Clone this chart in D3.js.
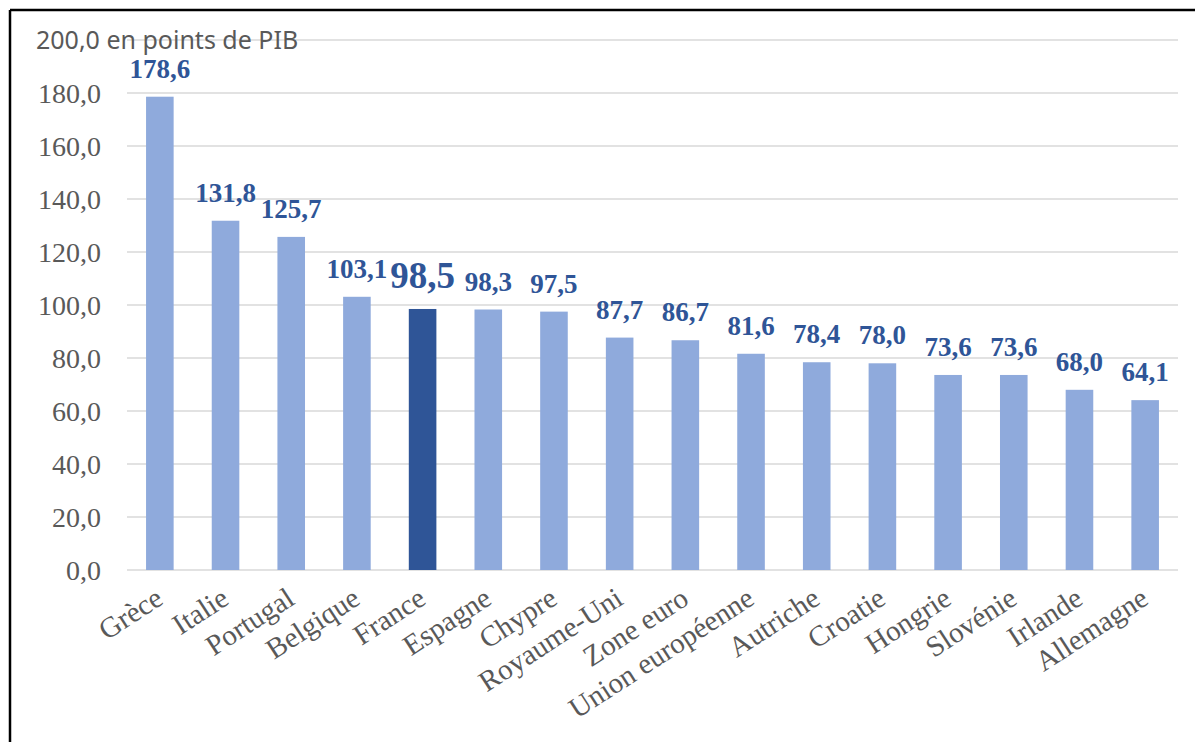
<!DOCTYPE html>
<meta charset="utf-8">
<style>
  body { margin: 0; background: #fff; }
  text { font-family: "Liberation Serif", "Times New Roman", serif; }
  .grid line { stroke: #d9d9d9; stroke-width: 1.5px; }
</style>
<body>
<svg width="1195" height="742"></svg>
<script src="https://d3js.org/d3.v7.min.js"></script>
<script>

var countries = ["Grèce", "Italie", "Portugal", "Belgique", "France", "Espagne", "Chypre", "Royaume-Uni",
  "Zone euro", "Union européenne", "Autriche", "Croatie", "Hongrie", "Slovénie", "Irlande", "Allemagne"];
var debt = [178.6, 131.8, 125.7, 103.1, 98.5, 98.3, 97.5, 87.7, 86.7, 81.6, 78.4, 78.0, 73.6, 73.6, 68.0, 64.1];
var ticks = [0, 20, 40, 60, 80, 100, 120, 140, 160, 180];
var highlight = "France";

var fmt = function(v) { return v.toFixed(1).replace(".", ","); };

const svg = d3.select("svg");

// frame (only top and left edges show in the picture)
svg.append("line").attr("x1", 10).attr("y1", 10).attr("x2", 1195).attr("y2", 10)
  .attr("stroke", "#000").attr("stroke-width", 2.5);
svg.append("line").attr("x1", 10).attr("y1", 10).attr("x2", 10).attr("y2", 742)
  .attr("stroke", "#000").attr("stroke-width", 2.5);

const x = d3.scaleBand().domain(countries).range([127, 1178]).paddingInner(0.58).paddingOuter(0.29);
const y = d3.scaleLinear().domain([0, 200]).range([570, 40]);

// gridlines
svg.append("g").attr("class", "grid")
  .selectAll("line")
  .data(ticks.concat([200]))
  .enter().append("line")
  .attr("x1", 127).attr("x2", 1178)
  .attr("y1", d => y(d)).attr("y2", d => y(d));

// y tick labels
svg.append("g")
  .selectAll("text")
  .data(ticks)
  .enter().append("text")
  .attr("x", 101)
  .attr("y", d => y(d) + 10)
  .attr("text-anchor", "end")
  .attr("fill", "#595959")
  .style("font-size", "28px")
  .text(fmt);

svg.append("text")
  .attr("x", 36).attr("y", y(200) + 9)
  .attr("fill", "#595959")
  .style("font-family", "'Noto Sans', 'Open Sans', sans-serif")
  .style("font-size", "25px")
  .text("200,0 en points de PIB");

// bars
svg.append("g")
  .selectAll("rect")
  .data(countries)
  .enter().append("rect")
  .attr("x", d => x(d))
  .attr("width", x.bandwidth())
  .attr("y", (d, i) => y(debt[i]))
  .attr("height", (d, i) => y(0) - y(debt[i]))
  .attr("fill", d => d === highlight ? "#2f5597" : "#8faadc");

// value labels
svg.append("g")
  .selectAll("text")
  .data(countries)
  .enter().append("text")
  .attr("x", d => x(d) + x.bandwidth() / 2)
  .attr("y", (d, i) => y(debt[i]) - (d === highlight ? 21 : 19))
  .attr("text-anchor", "middle")
  .attr("fill", "#2f5597")
  .style("font-weight", "bold")
  .style("font-size", d => d === highlight ? "37px" : "27px")
  .text((d, i) => fmt(debt[i]));

// category labels
svg.append("g")
  .selectAll("text")
  .data(countries)
  .enter().append("text")
  .attr("transform", d => "translate(" + (x(d) + x.bandwidth() / 2 + 5) + ",603) rotate(-33)")
  .attr("text-anchor", "end")
  .attr("fill", "#595959")
  .style("font-size", "29px")
  .text(d => d);

</script>
